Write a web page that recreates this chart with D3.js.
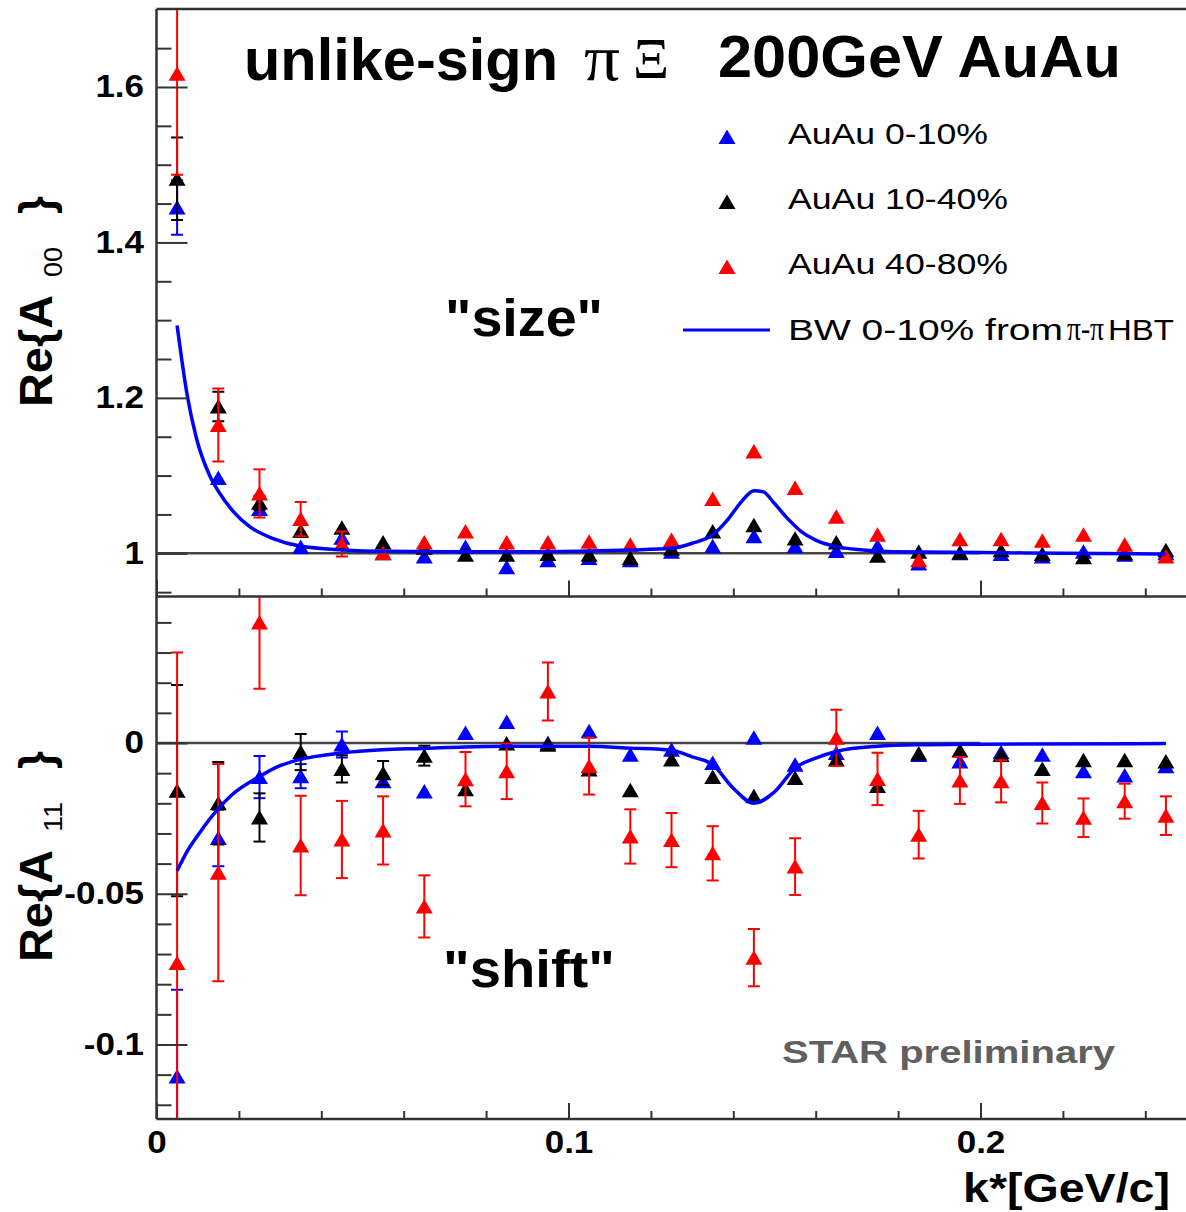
<!DOCTYPE html>
<html lang="en">
<head>
    <meta charset="UTF-8">
    <title>unlike-sign pi Xi correlation moments</title>
    <script src="https://d3js.org/d3.v7.min.js"></script>
    <style>
body {
    margin: 0;
    background: #fff;
}
svg {
    display: block;
}
    </style>
</head>
<body>
    <script>
// k* bin centres (GeV/c)
const kBins = [0.005, 0.015, 0.025, 0.035, 0.045, 0.055, 0.065, 0.075, 0.085, 0.095,
               0.105, 0.115, 0.125, 0.135, 0.145, 0.155, 0.165, 0.175, 0.185, 0.195,
               0.205, 0.215, 0.225, 0.235, 0.245];

const seriesNames = ["AuAu 0-10%", "AuAu 10-40%", "AuAu 40-80%"];
const seriesColors = ["#0000ff", "#000000", "#ff0000"];

// Re{A00} ("size")
const a00Cent0_10   = [1.445, 1.097, 1.057, 1.008, 1.020, 1.000, 0.996, 1.008, 0.982, 0.991,
                       0.994, 0.991, 1.002, 1.009, 1.022, 1.009, 1.003, 1.009, 0.987, 1.000,
                       0.999, 0.996, 1.002, 0.998, 1.000];
const a00Cent0_10Err  = [0.035, 0, 0, 0, 0, 0, 0, 0, 0, 0, 0, 0, 0, 0, 0, 0, 0, 0, 0, 0, 0, 0, 0, 0, 0];
const a00Cent10_40  = [1.482, 1.189, 1.065, 1.029, 1.033, 1.014, 1.007, 0.998, 0.998, 0.999,
                       0.998, 0.994, 1.006, 1.028, 1.036, 1.019, 1.014, 0.997, 1.002, 1.001,
                       1.004, 0.999, 0.995, 1.000, 1.004];
const a00Cent10_40Err = [0.053, 0.019, 0.009, 0.008, 0, 0, 0, 0, 0, 0, 0, 0, 0, 0, 0, 0, 0, 0, 0, 0, 0, 0, 0, 0, 0];
const a00Cent40_80  = [1.617, 1.165, 1.077, 1.044, 1.012, 1.000, 1.014, 1.028, 1.014, 1.014,
                       1.015, 1.011, 1.017, 1.070, 1.131, 1.084, 1.047, 1.024, 0.991, 1.018,
                       1.018, 1.016, 1.024, 1.011, 0.996];
const a00Cent40_80Err = [0.13, 0.047, 0.031, 0.022, 0.016, 0, 0, 0, 0, 0, 0, 0, 0, 0, 0, 0, 0, 0, 0, 0, 0, 0, 0, 0, 0];

// Re{A11} ("shift")
const a11Cent0_10   = [-0.1106, -0.0315, -0.0113, -0.0110, -0.0005, -0.0127, -0.0161, 0.0033, 0.0070, 0.0000,
                       0.0039, -0.0039, -0.0022, -0.0066, 0.0017, -0.0072, -0.0033, 0.0033, -0.0040, -0.0061,
                       -0.0031, -0.0039, -0.0094, -0.0108, -0.0077];
const a11Cent0_10Err  = [0.0288, 0.0094, 0.007, 0.004, 0.0043, 0, 0, 0, 0, 0, 0, 0, 0, 0, 0, 0, 0, 0, 0, 0, 0, 0, 0, 0, 0];
const a11Cent10_40  = [-0.0158, -0.0200, -0.0247, -0.0030, -0.0086, -0.0100, -0.0042, -0.0153, -0.0002, -0.0006,
                       -0.0088, -0.0157, -0.0055, -0.0113, -0.0177, -0.0116, -0.0055, -0.0143, -0.0035, -0.0025,
                       -0.0040, -0.0086, -0.0057, -0.0057, -0.0061];
const a11Cent10_40Err = [0.035, 0.0137, 0.008, 0.006, 0.0045, 0.004, 0.0033, 0, 0, 0, 0, 0, 0, 0, 0, 0, 0, 0, 0, 0, 0, 0, 0, 0, 0];
const a11Cent40_80  = [-0.0730, -0.0430, 0.0400, -0.0340, -0.0320, -0.0290, -0.0542, -0.0120, -0.0094, 0.0171,
                       -0.0077, -0.0310, -0.0322, -0.0366, -0.0712, -0.0410, 0.0017, -0.0119, -0.0304, -0.0124,
                       -0.0127, -0.0199, -0.0248, -0.0193, -0.0241];
const a11Cent40_80Err = [0.103, 0.036, 0.022, 0.0165, 0.0128, 0.0113, 0.0103, 0.009, 0.0092, 0.0096,
                         0.0094, 0.009, 0.009, 0.009, 0.0095, 0.0094, 0.0093, 0.0087, 0.0079, 0.0078,
                         0.007, 0.0068, 0.0064, 0.0058, 0.0064];

// blast-wave curves
const bwA00K = [0.005, 0.0074, 0.0096, 0.0129, 0.015, 0.0186, 0.0227, 0.0283, 0.0348, 0.0453,
                0.055, 0.07, 0.09, 0.105, 0.115, 0.125, 0.130, 0.135, 0.1386, 0.142,
                0.145, 0.1473, 0.150, 0.1535, 0.1565, 0.160, 0.165, 0.1715, 0.179, 0.20, 0.22, 0.245];
const bwA00  = [1.293, 1.205, 1.150, 1.100, 1.080, 1.054, 1.034, 1.019, 1.0093, 1.0044,
                1.0025, 1.002, 1.002, 1.003, 1.0043, 1.0064, 1.0129, 1.0236, 1.043, 1.0665,
                1.0806, 1.079, 1.064, 1.043, 1.028, 1.017, 1.0086, 1.0043, 1.002, 1.001, 1.000, 0.999];
const bwA11K = [0.005, 0.0072, 0.0104, 0.0148, 0.0184, 0.0248, 0.0297, 0.0347, 0.0448, 0.0547,
                0.0646, 0.0747, 0.0846, 0.095, 0.105, 0.115, 0.125, 0.130, 0.135, 0.140,
                0.145, 0.150, 0.155, 0.160, 0.165, 0.175, 0.185, 0.20, 0.245];
const bwA11  = [-0.0424, -0.0365, -0.0299, -0.0221, -0.0171, -0.0113, -0.0077, -0.0055, -0.0033, -0.0022,
                -0.0018, -0.0013, -0.0011, -0.0011, -0.0011, -0.0017, -0.0024, -0.0046, -0.0072, -0.0150,
                -0.0200, -0.0162, -0.0083, -0.0050, -0.0028, -0.0011, -0.0006, -0.0004, -0.0002];

// ticks
const xMajor = [0, 0.1, 0.2];
const xMinor = [0.02, 0.04, 0.06, 0.08, 0.12, 0.14, 0.16, 0.18, 0.22, 0.24];
const topMajor = [1, 1.2, 1.4, 1.6];
const topMinor = [0.95, 1.05, 1.1, 1.15, 1.25, 1.3, 1.35, 1.45, 1.5, 1.55, 1.65];
const botMajor = [-0.1, -0.05, 0];
const botMinor = [-0.12, -0.11, -0.09, -0.08, -0.07, -0.06, -0.04, -0.03, -0.02, -0.01, 0.01, 0.02, 0.03, 0.04];

const sans = "'Liberation Sans', Arial, Helvetica, sans-serif";
const serif = "'Liberation Serif', 'DejaVu Serif', serif";
const frameColor = "#333";

const W = 1186, H = 1212;
const left = 156.5, right = 1187;
const topY0 = 9, midY = 596.5, botY1 = 1119;

const x = d3.scaleLinear().domain([0, 0.1]).range([left, left + 412]);
const yTop = d3.scaleLinear().domain([1, 1.6]).range([553.3, 87]);
const yBot = d3.scaleLinear().domain([0, -0.1]).range([743, 1044.5]);

const svg = d3.select("body").append("svg")
    .attr("width", W)
    .attr("height", H);

const defs = svg.append("defs");
defs.append("clipPath").attr("id", "clipTop")
    .append("rect").attr("x", left).attr("y", topY0).attr("width", right - left).attr("height", midY - topY0);
defs.append("clipPath").attr("id", "clipBot")
    .append("rect").attr("x", left).attr("y", midY).attr("width", right - left).attr("height", botY1 - midY);

function label(g, px, py, str, o) {
    const t = g.append("text")
        .attr("x", px).attr("y", py)
        .attr("font-family", o.serif ? serif : sans)
        .attr("font-size", o.size)
        .attr("font-weight", o.bold ? "bold" : "normal")
        .attr("fill", o.fill || "#000")
        .attr("text-anchor", o.anchor || "start")
        .text(str);
    if (o.len) t.attr("textLength", o.len).attr("lengthAdjust", "spacingAndGlyphs");
    return t;
}

function triangle(g, cx, cy, color) {
    g.append("path")
        .attr("d", `M${cx},${cy - 7.5} L${cx + 8.5},${cy + 7} L${cx - 8.5},${cy + 7} Z`)
        .attr("fill", color);
}

function styleTicks(a) {
    a.select(".domain").remove();
    a.selectAll("line").attr("stroke", frameColor).attr("stroke-width", 2);
    a.selectAll("text")
        .attr("font-family", sans).attr("font-size", 31).attr("font-weight", "bold")
        .attr("fill", "#000")
        .attr("transform", "scale(1.13,1)");
}

function yAxis(scale, major, minor) {
    const g = svg.append("g").attr("transform", `translate(${left},0)`);
    g.call(d3.axisLeft(scale).tickValues(minor).tickSizeInner(-15).tickSizeOuter(0).tickFormat(""));
    const gm = svg.append("g").attr("transform", `translate(${left},0)`);
    gm.call(d3.axisLeft(scale).tickValues(major).tickSizeInner(-31).tickSizeOuter(0).tickPadding(11)
        .tickFormat(d => String(d)));
    styleTicks(g);
    styleTicks(gm);
}

function xAxis(yPos, withLabels) {
    const g = svg.append("g").attr("transform", `translate(0,${yPos})`);
    g.call(d3.axisBottom(x).tickValues(xMinor).tickSizeInner(-8).tickSizeOuter(0).tickFormat(""));
    const gm = svg.append("g").attr("transform", `translate(0,${yPos})`);
    gm.call(d3.axisBottom(x).tickValues(xMajor).tickSizeInner(-16).tickSizeOuter(0).tickPadding(12)
        .tickFormat(withLabels ? d => String(d) : ""));
    styleTicks(g);
    styleTicks(gm);
}

function drawPanel(clipId, y, series, errs, refValue, curveK, curveV) {
    const g = svg.append("g").attr("clip-path", `url(#${clipId})`);

    // reference line from 0 to 0.2
    g.append("line")
        .attr("x1", x(0)).attr("x2", x(0.2))
        .attr("y1", y(refValue)).attr("y2", y(refValue))
        .attr("stroke", "#444").attr("stroke-width", 2.5);

    series.forEach((vals, si) => {
        const color = seriesColors[si];
        const e = errs[si];
        kBins.forEach((k, i) => {
            if (e[i] > 0) {
                const px = x(k);
                const y1 = y(vals[i] + e[i]), y2 = y(vals[i] - e[i]);
                g.append("line").attr("x1", px).attr("x2", px).attr("y1", y1).attr("y2", y2)
                    .attr("stroke", color).attr("stroke-width", 2);
                [y1, y2].forEach(yy => g.append("line")
                    .attr("x1", px - 6).attr("x2", px + 6).attr("y1", yy).attr("y2", yy)
                    .attr("stroke", color).attr("stroke-width", 2));
            }
            triangle(g, x(k), y(vals[i]), color);
        });
    });

    const line = d3.line()
        .x((d, i) => x(curveK[i]))
        .y(d => y(d))
        .curve(d3.curveMonotoneX);
    g.append("path")
        .datum(curveV)
        .attr("fill", "none")
        .attr("stroke", "#0000ff")
        .attr("stroke-width", 3.5)
        .attr("d", line);
}

drawPanel("clipTop", yTop,
    [a00Cent0_10, a00Cent10_40, a00Cent40_80],
    [a00Cent0_10Err, a00Cent10_40Err, a00Cent40_80Err],
    1, bwA00K, bwA00);
drawPanel("clipBot", yBot,
    [a11Cent0_10, a11Cent10_40, a11Cent40_80],
    [a11Cent0_10Err, a11Cent10_40Err, a11Cent40_80Err],
    0, bwA11K, bwA11);

// axes and frame
yAxis(yTop, topMajor, topMinor);
yAxis(yBot, botMajor, botMinor);
xAxis(midY, false);
xAxis(botY1, true);

const frame = svg.append("g").attr("stroke", frameColor).attr("stroke-width", 2.5);
frame.append("line").attr("x1", left).attr("x2", left).attr("y1", topY0).attr("y2", botY1);
frame.append("line").attr("x1", left).attr("x2", W).attr("y1", topY0).attr("y2", topY0);
frame.append("line").attr("x1", left).attr("x2", W).attr("y1", midY).attr("y2", midY);
frame.append("line").attr("x1", left).attr("x2", W).attr("y1", botY1).attr("y2", botY1);

// title
label(svg, 244, 80, "unlike-sign", {size: 60, bold: true, len: 314});
label(svg, 584, 80, "π", {size: 66, serif: true, len: 36});
label(svg, 633, 78, "Ξ", {size: 56, serif: true, len: 36});
label(svg, 718, 77, "200GeV AuAu", {size: 60, bold: true, len: 403});

// legend
const legY = [137, 202, 267];
seriesNames.forEach((name, i) => {
    triangle(svg, 727, legY[i], seriesColors[i]);
    label(svg, 788, legY[i] + 7, name, {size: 30, len: i === 0 ? 200 : 220});
});
svg.append("line").attr("x1", 683).attr("x2", 770).attr("y1", 330).attr("y2", 330)
    .attr("stroke", "#0000ff").attr("stroke-width", 3);
label(svg, 788, 340, "BW 0-10% from", {size: 30, len: 275});
label(svg, 1067, 340, "π-π", {size: 33, serif: true, len: 37});
label(svg, 1108, 340, "HBT", {size: 30, len: 66});

// panel annotations
label(svg, 445, 336, "\"size\"", {size: 51, bold: true, len: 158});
label(svg, 443, 987, "\"shift\"", {size: 51, bold: true, len: 172});
label(svg, 782, 1063, "STAR preliminary", {size: 32, bold: true, fill: "#606060", len: 333});

// axis titles
label(svg, 1170, 1202, "k*[GeV/c]", {size: 40, bold: true, anchor: "end", len: 207});

function yTitle(baseX, startY, sub) {
    const g = svg.append("g").attr("transform", `translate(${baseX},${startY}) rotate(-90)`);
    label(g, 0, 0, "Re{A", {size: 47, bold: true, len: 112});
    label(g, 130, 10, sub, {size: 26, len: 30});
    label(g, 193, 0, "}", {size: 47, bold: true, len: 18});
}
yTitle(52, 407, "00");
yTitle(52, 962, "11");
    </script>
</body>
</html>
